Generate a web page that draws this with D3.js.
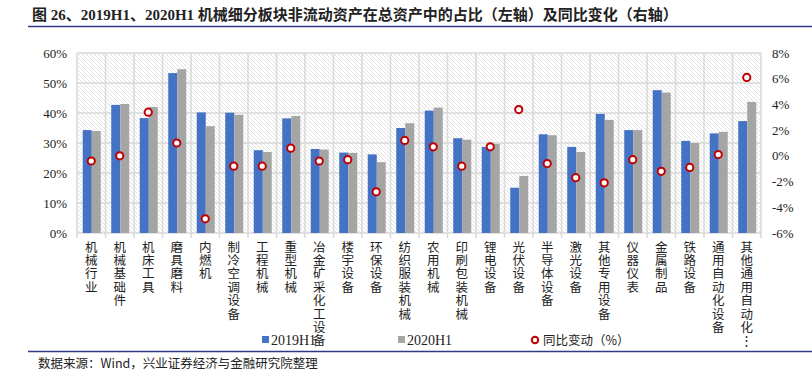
<!DOCTYPE html>
<meta charset="utf-8">
<style>
    body { margin: 0; background: white; }
    svg { display: block; background: white; }
    text { font-family: "Liberation Serif", "Noto Sans CJK SC", serif; fill: #222; }
    .cjk { font-family: "Noto Sans CJK SC", sans-serif; }
</style>
<svg width="812" height="374"></svg>
<script src="https://cdnjs.cloudflare.com/ajax/libs/d3/7.8.5/d3.min.js"></script>
<script>
    // categories (x axis)
    var categories = ["机械行业", "机械基础件", "机床工具", "磨具磨料", "内燃机", "制冷空调设备", "工程机械",
        "重型机械", "冶金矿采化工设备", "楼宇设备", "环保设备", "纺织服装机械", "农用机械", "印刷包装机械",
        "锂电设备", "光伏设备", "半导体设备", "激光设备", "其他专用设备", "仪器仪表", "金属制品",
        "铁路设备", "通用自动化设备", "其他通用自动化…"];
    // share of non-current assets, %
    var h2019 = [34.3, 42.7, 38.3, 53.3, 40.2, 40.1, 27.6, 38.2, 28.0, 26.8, 26.2, 35.0, 40.8, 31.6,
        28.7, 15.1, 32.9, 28.7, 39.7, 34.3, 47.6, 30.7, 33.2, 37.3];
    var h2020 = [34.0, 43.0, 42.0, 54.6, 35.6, 39.4, 27.0, 39.0, 27.8, 26.7, 23.6, 36.6, 41.8, 31.1,
        29.7, 19.0, 32.6, 27.0, 37.7, 34.3, 46.8, 30.0, 33.7, 43.7];
    // yoy change, % (right axis)
    var yoy = [-0.4, 0.0, 3.4, 1.0, -4.9, -0.8, -0.8, 0.6, -0.4, -0.3, -2.8, 1.2, 0.7, -0.8,
        0.7, 3.6, -0.6, -1.7, -2.1, -0.3, -1.2, -0.9, 0.1, 6.1];
    var leftTicks = [0, 10, 20, 30, 40, 50, 60];
    var rightTicks = [-6, -4, -2, 0, 2, 4, 6, 8];
    var seriesNames = ["2019H1", "2020H1", "同比变动（%）"];

    var svg = d3.select("svg");
    var plotTop = 53, plotBottom = 233, plotLeft = 77, plotRight = 761;
    var blue = "#4472c4", gray = "#a5a5a5", red = "#c00000", grid = "#d9d9d9";

    var x = d3.scaleBand().domain(categories).range([plotLeft, plotRight]).paddingInner(0).paddingOuter(0);
    var yL = d3.scaleLinear().domain([0, 60]).range([plotBottom, plotTop]);
    var yR = d3.scaleLinear().domain([-6, 8]).range([plotBottom, plotTop]);

    // title
    svg.append("text")
        .attr("x", 32).attr("y", 20)
        .style("font-size", "15px").style("font-weight", "bold")
        .text("图 26、2019H1、2020H1 机械细分板块非流动资产在总资产中的占比（左轴）及同比变化（右轴）");
    svg.append("line").attr("x1", 28).attr("x2", 812).attr("y1", 26.5).attr("y2", 26.5)
        .attr("stroke", "#2f3a85").attr("stroke-width", 1.5);

    // hatched background
    var defs = svg.append("defs");
    var pat = defs.append("pattern").attr("id", "hatch").attr("patternUnits", "userSpaceOnUse")
        .attr("width", 4).attr("height", 4);
    pat.append("rect").attr("width", 4).attr("height", 4).attr("fill", "white");
    pat.append("path").attr("d", "M-1,-1 L5,5 M-1,3 L1,5 M3,-1 L5,1")
        .attr("stroke", "#e2e2e2").attr("stroke-width", 1);
    svg.append("rect").attr("x", plotLeft).attr("y", plotTop)
        .attr("width", plotRight - plotLeft).attr("height", plotBottom - plotTop)
        .attr("fill", "url(#hatch)");

    // gridlines
    svg.append("g").selectAll("line").data(leftTicks).enter().append("line")
        .attr("x1", plotLeft).attr("x2", plotRight)
        .attr("y1", function (d) { return yL(d); }).attr("y2", function (d) { return yL(d); })
        .attr("stroke", grid).attr("stroke-width", 1.5);
    var bounds = categories.map(function (c) { return x(c); }).concat([plotRight]);
    svg.append("g").selectAll("line").data(bounds).enter().append("line")
        .attr("x1", function (d) { return d; }).attr("x2", function (d) { return d; })
        .attr("y1", plotTop).attr("y2", plotBottom + 5)
        .attr("stroke", grid).attr("stroke-width", 1.5);

    // left axis labels
    svg.append("g").selectAll("text").data(leftTicks).enter().append("text")
        .attr("x", 67).attr("y", function (d) { return yL(d); }).attr("dy", "0.35em")
        .attr("text-anchor", "end").style("font-size", "13px")
        .text(function (d) { return d + "%"; });
    // right axis labels
    svg.append("g").selectAll("text").data(rightTicks).enter().append("text")
        .attr("x", 772).attr("y", function (d) { return yR(d); }).attr("dy", "0.35em")
        .attr("text-anchor", "start").style("font-size", "13px")
        .text(function (d) { return d + "%"; });

    // bars
    var bw = 9;
    var barG = svg.append("g");
    categories.forEach(function (c, i) {
        var cx = x(c) + x.bandwidth() / 2 + 0.5;
        barG.append("rect").attr("x", cx - bw).attr("width", bw)
            .attr("y", yL(h2019[i])).attr("height", plotBottom - yL(h2019[i]))
            .attr("fill", blue);
        barG.append("rect").attr("x", cx).attr("width", bw)
            .attr("y", yL(h2020[i])).attr("height", plotBottom - yL(h2020[i]))
            .attr("fill", gray);
    });

    // yoy markers
    svg.append("g").selectAll("circle").data(yoy).enter().append("circle")
        .attr("cx", function (d, i) { return x(categories[i]) + x.bandwidth() / 2; })
        .attr("cy", function (d) { return yR(d); })
        .attr("r", 3.6).attr("fill", "white").attr("stroke", red).attr("stroke-width", 2);

    // vertical category labels, one character per line
    var lab = svg.append("g");
    categories.forEach(function (c) {
        var chars = Array.from(c);
        chars.forEach(function (ch, j) {
            lab.append("text").attr("class", "cjk")
                .attr("text-anchor", "middle").style("font-size", "12.5px")
                .attr("x", x(c) + x.bandwidth() / 2)
                .attr("y", 251.5 + j * 13.4)
                .text(ch === "…" ? "⋮" : ch);
        });
    });

    // legend
    var lg = svg.append("g");
    lg.append("rect").attr("x", 262).attr("y", 336).attr("width", 7).attr("height", 7).attr("fill", blue);
    lg.append("text").attr("x", 271).attr("y", 344.5).style("font-size", "14px").text(seriesNames[0]);
    lg.append("rect").attr("x", 398).attr("y", 336).attr("width", 7).attr("height", 7).attr("fill", gray);
    lg.append("text").attr("x", 407).attr("y", 344.5).style("font-size", "14px").text(seriesNames[1]);
    lg.append("circle").attr("cx", 535).attr("cy", 340).attr("r", 3.2)
        .attr("fill", "white").attr("stroke", red).attr("stroke-width", 2);
    lg.append("text").attr("class", "cjk").attr("x", 543).attr("y", 344.5).style("font-size", "12.5px").text(seriesNames[2]);

    // footer
    svg.append("line").attr("x1", 28).attr("x2", 812).attr("y1", 351.5).attr("y2", 351.5)
        .attr("stroke", "#2f3a85").attr("stroke-width", 1.5);
    svg.append("text").attr("class", "cjk").attr("x", 38).attr("y", 368).style("font-size", "12.5px")
        .text("数据来源：Wind，兴业证券经济与金融研究院整理");
</script>
